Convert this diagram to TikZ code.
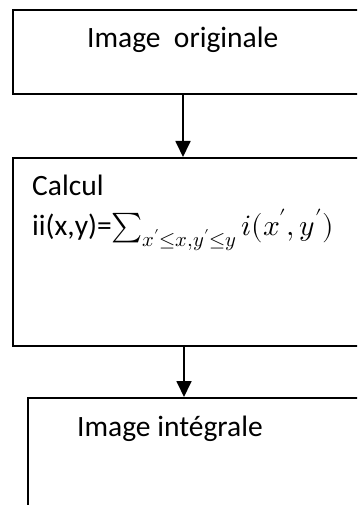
\documentclass[tikz,border=0pt]{standalone}
\usepackage{fontspec}
\usepackage{unicode-math}
\setmainfont{Carlito}
\setmathfont{Latin Modern Math}
\usetikzlibrary{arrows.meta}
\tikzset{
  box/.style={draw, line width=1.8pt, rectangle, anchor=north west, inner sep=0pt},
  lbl/.style={anchor=base west, inner sep=0pt, font=\fontsize{29.5}{35}\selectfont},
  arr/.style={line width=1.8pt, -{Triangle[length=16pt,width=15pt]}}
}
\begin{document}
\begin{tikzpicture}[x=1pt,y=-1pt]
\useasboundingbox (0,0) rectangle (357,505);
\clip (0,0) rectangle (357,505);
\node[box, minimum width=400pt, minimum height=84pt] (b1) at (12,9) {};
\node[box, minimum width=400pt, minimum height=188pt] (b2) at (12,157) {};
\node[box, minimum width=400pt, minimum height=200pt] (b3) at (27,397) {};
\node[lbl] (t1) at (87,48) {Image\ \ originale};
\node[lbl] (t2) at (32,195) {Calcul};
\node[lbl] (t3) at (32,235) {ii(x,y)=$\sum_{x'\leq x,y'\leq y} i(x',y')$};
\node[lbl] (t4) at (77,436) {Image intégrale};
\coordinate (a1) at (183,0);
\coordinate (a2) at (184,0);
\draw[arr] (b1.south -| a1) -- (b2.north -| a1);
\draw[arr] (b2.south -| a2) -- (b3.north -| a2);
\end{tikzpicture}
\end{document}
